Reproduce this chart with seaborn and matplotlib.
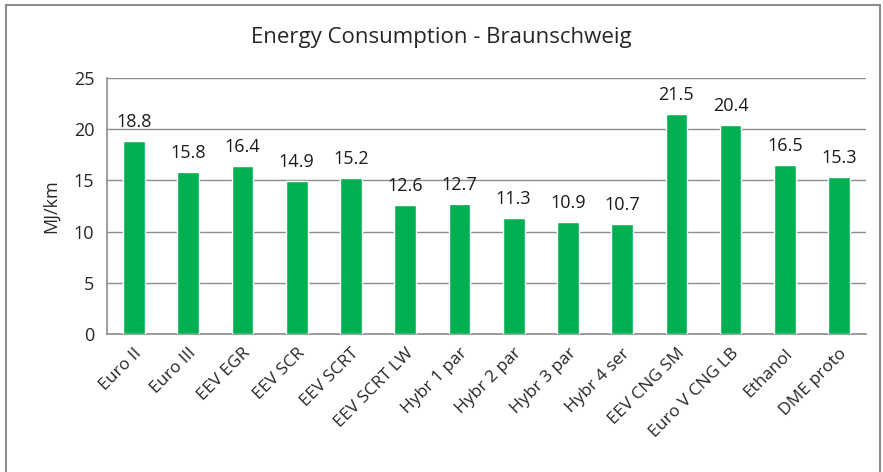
import matplotlib
matplotlib.use("Agg")
import matplotlib.pyplot as plt
import seaborn as sns
import pandas as pd
from matplotlib.patches import Rectangle

# data
buses = ["Euro II", "Euro III", "EEV EGR", "EEV SCR", "EEV SCRT", "EEV SCRT LW",
         "Hybr 1 par", "Hybr 2 par", "Hybr 3 par", "Hybr 4 ser", "EEV CNG SM",
         "Euro V CNG LB", "Ethanol", "DME proto"]
energy = [18.8, 15.8, 16.4, 14.9, 15.2, 12.6, 12.7, 11.3, 10.9, 10.7, 21.5, 20.4, 16.5, 15.3]
yticks = [0, 5, 10, 15, 20, 25]

df = pd.DataFrame({"bus": buses, "mj": energy})

sns.set_style("white")
plt.rcParams["font.family"] = ["Open Sans", "DejaVu Sans"]

fig = plt.figure(figsize=(8.83, 4.72), dpi=100)
ax = fig.add_axes([0.121, 0.292, 0.860, 0.543])

sns.barplot(data=df, x="bus", y="mj", color="#00B050", width=0.4,
            saturation=1, ax=ax, zorder=3)

for i, v in enumerate(energy):
    ax.text(i, v + 1.0, f"{v:.1f}", ha="center", va="bottom", fontsize=13, color="#1a1a1a")

ax.set_ylim(0, 25)
ax.set_xlim(-0.5, len(buses) - 0.5)
ax.set_yticks(yticks)
ax.yaxis.grid(True, color="#8c8c8c", linewidth=1, zorder=0)
ax.set_axisbelow(True)

for s in ["top", "right"]:
    ax.spines[s].set_visible(False)
for s in ["left", "bottom"]:
    ax.spines[s].set_color("#8c8c8c")
    ax.spines[s].set_linewidth(1.2)

# category boundary ticks
ax.set_xticks([i for i in range(len(buses))])
ax.set_xticklabels(buses, rotation=45, ha="right", rotation_mode="anchor", fontsize=12.5)
ax.set_xticks([i - 0.5 for i in range(len(buses) + 1)], minor=True)
ax.tick_params(axis="x", which="major", length=0, pad=8)
ax.tick_params(axis="x", which="minor", length=5, color="#8c8c8c", width=1.2, direction="out")
ax.tick_params(axis="y", length=5, color="#8c8c8c", width=1.2, direction="out", labelsize=13, pad=4)

ax.set_xlabel("")
ax.set_ylabel("MJ/km", fontsize=13, labelpad=10)
fig.text(0.5, 0.92, "Energy Consumption - Braunschweig", ha="center", va="center", fontsize=16)

fig.patches.append(Rectangle((0.007, -0.01), 0.99, 1.0, transform=fig.transFigure,
                             fill=False, edgecolor="#8c8c8c", linewidth=1.5))

fig.savefig("out.png", dpi=100)
